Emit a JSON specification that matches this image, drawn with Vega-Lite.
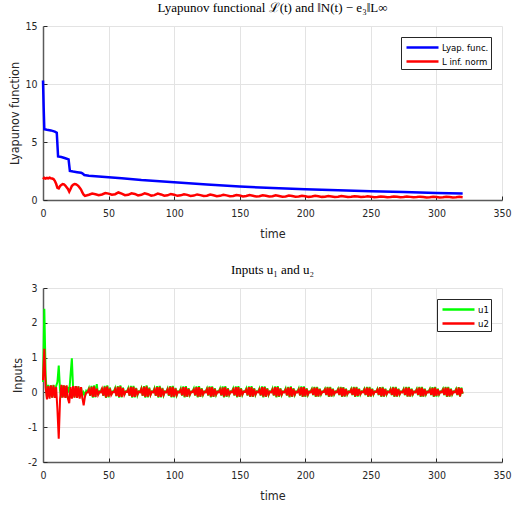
{
  "$schema": "https://vega.github.io/schema/vega-lite/v6.json",
  "padding": {"left": 8, "top": 2, "right": 8, "bottom": 5},
  "bounds": "flush",
  "spacing": 88,
  "resolve": {"scale": {"color": "independent"}, "legend": {"color": "independent"}},
  "config": {
    "view": {"stroke": null},
    "font": "DejaVu Sans Condensed, Liberation Sans",
    "axis": {"labelFont": "DejaVu Sans Condensed, Liberation Sans", "labelFontSize": 10.5, "labelColor": "#262626", "labelFlush": false, "titleFont": "DejaVu Sans Condensed, Liberation Sans", "titleFontSize": 12.5, "titleFontWeight": "normal", "titleColor": "#262626", "domainColor": "#5a5a5a", "domainWidth": 1.5, "tickColor": "#262626", "tickSize": -4, "tickWidth": 1, "gridColor": "#e3e3e3", "gridWidth": 1, "labelPadding": 12},
    "axisX": {"titlePadding": 9},
    "axisY": {"titlePadding": 3, "labelPadding": 10},
    "legend": {"orient": "top-right", "offset": 11, "strokeColor": "#262626", "fillColor": "white", "padding": 2, "symbolType": "M-0.714,0H3.857", "symbolStrokeWidth": 2.5, "symbolSize": 196, "labelFont": "DejaVu Sans Condensed, Liberation Sans", "labelFontSize": 9.5, "labelColor": "#000", "labelOffset": 22, "rowPadding": 0, "title": null},
    "title": {"font": "Liberation Serif", "fontSize": 13, "fontWeight": "normal", "color": "#000", "offset": 6}
  },
  "vconcat": [
    {
      "width": 459, "height": 174,
      "title": "Lyapunov functional ℒ(t) and ‖N(t) − e₃‖L∞",
      "data": {"values": [
        {"t":0,"s":"Lyap. func.","v":10.3},{"t":0.5,"s":"Lyap. func.","v":8},{"t":1,"s":"Lyap. func.","v":6.1},{"t":3,"s":"Lyap. func.","v":6.05},{"t":6,"s":"Lyap. func.","v":6.0},{"t":9,"s":"Lyap. func.","v":5.9},{"t":10.5,"s":"Lyap. func.","v":5.8},{"t":11.5,"s":"Lyap. func.","v":3.75},{"t":14,"s":"Lyap. func.","v":3.7},{"t":17,"s":"Lyap. func.","v":3.6},{"t":19.5,"s":"Lyap. func.","v":3.5},{"t":20.5,"s":"Lyap. func.","v":2.5},{"t":23,"s":"Lyap. func.","v":2.45},{"t":26,"s":"Lyap. func.","v":2.4},{"t":29,"s":"Lyap. func.","v":2.35},{"t":30,"s":"Lyap. func.","v":2.3},{"t":31.5,"s":"Lyap. func.","v":2.15},{"t":35,"s":"Lyap. func.","v":2.1},{"t":40,"s":"Lyap. func.","v":2.05},{"t":50,"s":"Lyap. func.","v":1.97},{"t":60,"s":"Lyap. func.","v":1.88},{"t":75,"s":"Lyap. func.","v":1.72},{"t":100,"s":"Lyap. func.","v":1.52},{"t":125,"s":"Lyap. func.","v":1.33},{"t":150,"s":"Lyap. func.","v":1.17},{"t":175,"s":"Lyap. func.","v":1.03},{"t":200,"s":"Lyap. func.","v":0.93},{"t":225,"s":"Lyap. func.","v":0.84},{"t":250,"s":"Lyap. func.","v":0.76},{"t":275,"s":"Lyap. func.","v":0.68},{"t":300,"s":"Lyap. func.","v":0.61},{"t":320,"s":"Lyap. func.","v":0.56},
        {"t":0,"s":"L inf. norm","v":1.8},{"t":1,"s":"L inf. norm","v":1.92},{"t":2,"s":"L inf. norm","v":1.85},{"t":3,"s":"L inf. norm","v":1.9},{"t":4,"s":"L inf. norm","v":1.86},{"t":5,"s":"L inf. norm","v":1.92},{"t":6,"s":"L inf. norm","v":1.88},{"t":7,"s":"L inf. norm","v":1.85},{"t":8,"s":"L inf. norm","v":1.8},{"t":9,"s":"L inf. norm","v":1.65},{"t":10,"s":"L inf. norm","v":1.4},{"t":11,"s":"L inf. norm","v":1.05},{"t":12,"s":"L inf. norm","v":1.0},{"t":13,"s":"L inf. norm","v":1.2},{"t":14,"s":"L inf. norm","v":1.3},{"t":15,"s":"L inf. norm","v":1.38},{"t":16,"s":"L inf. norm","v":1.35},{"t":17,"s":"L inf. norm","v":1.25},{"t":18,"s":"L inf. norm","v":1.1},{"t":19,"s":"L inf. norm","v":0.95},{"t":20,"s":"L inf. norm","v":0.72},{"t":21,"s":"L inf. norm","v":0.95},{"t":22,"s":"L inf. norm","v":1.2},{"t":23,"s":"L inf. norm","v":1.32},{"t":24,"s":"L inf. norm","v":1.38},{"t":25,"s":"L inf. norm","v":1.36},{"t":26,"s":"L inf. norm","v":1.3},{"t":27,"s":"L inf. norm","v":1.2},{"t":28,"s":"L inf. norm","v":1.05},{"t":29,"s":"L inf. norm","v":0.9},{"t":30,"s":"L inf. norm","v":0.65},{"t":31,"s":"L inf. norm","v":0.45},{"t":32,"s":"L inf. norm","v":0.35},
        {"t":35,"s":"L inf. norm","v":0.45},{"t":37.5,"s":"L inf. norm","v":0.55},{"t":40,"s":"L inf. norm","v":0.5},{"t":42.5,"s":"L inf. norm","v":0.42},{"t":45,"s":"L inf. norm","v":0.48},{"t":47.5,"s":"L inf. norm","v":0.6},{"t":50,"s":"L inf. norm","v":0.55},{"t":52.5,"s":"L inf. norm","v":0.45},{"t":55,"s":"L inf. norm","v":0.5},{"t":57.5,"s":"L inf. norm","v":0.65},{"t":60,"s":"L inf. norm","v":0.55},{"t":62.5,"s":"L inf. norm","v":0.42},{"t":65,"s":"L inf. norm","v":0.45},{"t":67.5,"s":"L inf. norm","v":0.58},{"t":70,"s":"L inf. norm","v":0.52},{"t":72.5,"s":"L inf. norm","v":0.4},{"t":75,"s":"L inf. norm","v":0.45},{"t":77.5,"s":"L inf. norm","v":0.57},{"t":80,"s":"L inf. norm","v":0.5},{"t":82.5,"s":"L inf. norm","v":0.38},{"t":85,"s":"L inf. norm","v":0.42},{"t":87.5,"s":"L inf. norm","v":0.55},{"t":90,"s":"L inf. norm","v":0.48},{"t":92.5,"s":"L inf. norm","v":0.37},{"t":95,"s":"L inf. norm","v":0.4},{"t":97.5,"s":"L inf. norm","v":0.52},{"t":100,"s":"L inf. norm","v":0.46},{"t":102.5,"s":"L inf. norm","v":0.36},{"t":105,"s":"L inf. norm","v":0.4},{"t":107.5,"s":"L inf. norm","v":0.5},{"t":110,"s":"L inf. norm","v":0.44},{"t":112.5,"s":"L inf. norm","v":0.35},{"t":115,"s":"L inf. norm","v":0.38},{"t":117.5,"s":"L inf. norm","v":0.48},{"t":120,"s":"L inf. norm","v":0.42},{"t":122.5,"s":"L inf. norm","v":0.34},{"t":125,"s":"L inf. norm","v":0.37},{"t":127.5,"s":"L inf. norm","v":0.47},{"t":130,"s":"L inf. norm","v":0.41},{"t":132.5,"s":"L inf. norm","v":0.33},{"t":135,"s":"L inf. norm","v":0.36},{"t":137.5,"s":"L inf. norm","v":0.45},{"t":140,"s":"L inf. norm","v":0.4},{"t":142.5,"s":"L inf. norm","v":0.32},{"t":145,"s":"L inf. norm","v":0.35},{"t":147.5,"s":"L inf. norm","v":0.43},{"t":150,"s":"L inf. norm","v":0.38},{"t":152.5,"s":"L inf. norm","v":0.31},{"t":155,"s":"L inf. norm","v":0.34},{"t":157.5,"s":"L inf. norm","v":0.42},{"t":160,"s":"L inf. norm","v":0.37},{"t":162.5,"s":"L inf. norm","v":0.3},{"t":165,"s":"L inf. norm","v":0.33},{"t":167.5,"s":"L inf. norm","v":0.41},{"t":170,"s":"L inf. norm","v":0.36},{"t":172.5,"s":"L inf. norm","v":0.3},{"t":175,"s":"L inf. norm","v":0.32},{"t":177.5,"s":"L inf. norm","v":0.4},{"t":180,"s":"L inf. norm","v":0.35},{"t":182.5,"s":"L inf. norm","v":0.29},{"t":185,"s":"L inf. norm","v":0.31},{"t":187.5,"s":"L inf. norm","v":0.39},{"t":190,"s":"L inf. norm","v":0.34},{"t":192.5,"s":"L inf. norm","v":0.28},{"t":195,"s":"L inf. norm","v":0.3},{"t":197.5,"s":"L inf. norm","v":0.37},{"t":200,"s":"L inf. norm","v":0.33},{"t":202.5,"s":"L inf. norm","v":0.27},{"t":205,"s":"L inf. norm","v":0.3},{"t":207.5,"s":"L inf. norm","v":0.36},{"t":210,"s":"L inf. norm","v":0.32},{"t":212.5,"s":"L inf. norm","v":0.27},{"t":215,"s":"L inf. norm","v":0.29},{"t":217.5,"s":"L inf. norm","v":0.35},{"t":220,"s":"L inf. norm","v":0.31},{"t":222.5,"s":"L inf. norm","v":0.26},{"t":225,"s":"L inf. norm","v":0.28},{"t":227.5,"s":"L inf. norm","v":0.34},{"t":230,"s":"L inf. norm","v":0.3},{"t":232.5,"s":"L inf. norm","v":0.25},{"t":235,"s":"L inf. norm","v":0.28},{"t":237.5,"s":"L inf. norm","v":0.33},{"t":240,"s":"L inf. norm","v":0.3},{"t":242.5,"s":"L inf. norm","v":0.25},{"t":245,"s":"L inf. norm","v":0.27},{"t":247.5,"s":"L inf. norm","v":0.32},{"t":250,"s":"L inf. norm","v":0.29},{"t":252.5,"s":"L inf. norm","v":0.24},{"t":255,"s":"L inf. norm","v":0.26},{"t":257.5,"s":"L inf. norm","v":0.31},{"t":260,"s":"L inf. norm","v":0.28},{"t":262.5,"s":"L inf. norm","v":0.24},{"t":265,"s":"L inf. norm","v":0.26},{"t":267.5,"s":"L inf. norm","v":0.31},{"t":270,"s":"L inf. norm","v":0.28},{"t":272.5,"s":"L inf. norm","v":0.23},{"t":275,"s":"L inf. norm","v":0.25},{"t":277.5,"s":"L inf. norm","v":0.3},{"t":280,"s":"L inf. norm","v":0.27},{"t":282.5,"s":"L inf. norm","v":0.23},{"t":285,"s":"L inf. norm","v":0.25},{"t":287.5,"s":"L inf. norm","v":0.29},{"t":290,"s":"L inf. norm","v":0.26},{"t":292.5,"s":"L inf. norm","v":0.22},{"t":295,"s":"L inf. norm","v":0.24},{"t":297.5,"s":"L inf. norm","v":0.28},{"t":300,"s":"L inf. norm","v":0.26},{"t":302.5,"s":"L inf. norm","v":0.22},{"t":305,"s":"L inf. norm","v":0.24},{"t":307.5,"s":"L inf. norm","v":0.28},{"t":310,"s":"L inf. norm","v":0.25},{"t":312.5,"s":"L inf. norm","v":0.21},{"t":315,"s":"L inf. norm","v":0.23},{"t":317.5,"s":"L inf. norm","v":0.27},{"t":320,"s":"L inf. norm","v":0.24}
      ]},
      "mark": {"type": "line", "strokeWidth": 2.5},
      "encoding": {
        "x": {"field": "t", "type": "quantitative", "title": "time", "scale": {"domain": [0, 350], "nice": false}, "axis": {"values": [0,50,100,150,200,250,300,350]}},
        "y": {"field": "v", "type": "quantitative", "title": "Lyapunov function", "scale": {"domain": [0, 15], "nice": false}, "axis": {"values": [0,5,10,15]}},
        "color": {"field": "s", "type": "nominal", "scale": {"domain": ["Lyap. func.", "L inf. norm"], "range": ["#0000ff", "#ff0000"]}, "legend": {"title": null}},
        "order": {"field": "t", "type": "quantitative"}
      }
    },
    {
      "width": 459, "height": 174,
      "title": "Inputs u₁ and u₂",
      "data": {"values": [
        {"t":0,"u1":0.3,"u2":0.35},{"t":1,"u1":2.4,"u2":1.25},{"t":2,"u1":0.5,"u2":0.15},{"t":3,"u1":-0.15,"u2":-0.2},{"t":4,"u1":0.22,"u2":0.18},{"t":5,"u1":-0.12,"u2":-0.18},{"t":6,"u1":0.2,"u2":0.2},{"t":7,"u1":-0.15,"u2":-0.15},{"t":8,"u1":0.22,"u2":0.2},{"t":9,"u1":-0.12,"u2":-0.16},
        {"t":10,"u1":0.18,"u2":0.15},{"t":11,"u1":0.3,"u2":-0.5},{"t":12,"u1":0.77,"u2":-1.33},{"t":13,"u1":0.05,"u2":-0.2},{"t":14,"u1":-0.15,"u2":0.22},{"t":15,"u1":0.2,"u2":-0.15},{"t":16,"u1":-0.12,"u2":0.2},{"t":17,"u1":0.18,"u2":-0.16},{"t":18,"u1":-0.15,"u2":0.2},{"t":19,"u1":0.16,"u2":-0.18},
        {"t":20,"u1":0.0,"u2":-0.31},{"t":21,"u1":0.5,"u2":0.15},{"t":22,"u1":0.98,"u2":-0.18},{"t":23,"u1":0.05,"u2":0.18},{"t":24,"u1":-0.14,"u2":-0.15},{"t":25,"u1":0.18,"u2":0.18},{"t":26,"u1":-0.15,"u2":-0.16},{"t":27,"u1":0.17,"u2":0.17},{"t":28,"u1":-0.13,"u2":-0.18},{"t":29,"u1":0.15,"u2":0.15},
        {"t":30,"u1":-0.1,"u2":-0.15},{"t":31,"u1":0.0,"u2":-0.37},{"t":32,"u1":-0.08,"u2":-0.12},{"t":33,"u1":0.05,"u2":0.0},
        {"t":34,"u1":0.02,"u2":0.0},{"t":35,"u1":0.12,"u2":0.09},{"t":36,"u1":-0.1,"u2":-0.09},{"t":37,"u1":0.19,"u2":0.16},{"t":38,"u1":-0.15,"u2":-0.13},{"t":39,"u1":0.2,"u2":0.17},{"t":40,"u1":-0.14,"u2":-0.13},{"t":41,"u1":0.24,"u2":0.11},{"t":42,"u1":-0.08,"u2":-0.07},{"t":43,"u1":0.03,"u2":0.02},
        {"t":44,"u1":0.01,"u2":0.0},{"t":45,"u1":0.13,"u2":0.1},{"t":46,"u1":-0.1,"u2":-0.09},{"t":47,"u1":0.19,"u2":0.16},{"t":48,"u1":-0.16,"u2":-0.14},{"t":49,"u1":0.2,"u2":0.17},{"t":50,"u1":-0.14,"u2":-0.12},{"t":51,"u1":0.14,"u2":0.11},{"t":52,"u1":-0.08,"u2":-0.07},{"t":53,"u1":0.03,"u2":0.01},
        {"t":54,"u1":0.02,"u2":0.0},{"t":55,"u1":0.12,"u2":0.09},{"t":56,"u1":-0.11,"u2":-0.1},{"t":57,"u1":0.18,"u2":0.16},{"t":58,"u1":-0.15,"u2":-0.13},{"t":59,"u1":0.2,"u2":0.17},{"t":60,"u1":-0.14,"u2":-0.13},{"t":61,"u1":0.14,"u2":0.12},{"t":62,"u1":-0.08,"u2":-0.07},{"t":63,"u1":0.03,"u2":0.02},
        {"t":64,"u1":0.02,"u2":0.01},{"t":65,"u1":0.12,"u2":0.09},{"t":66,"u1":-0.1,"u2":-0.09},{"t":67,"u1":0.19,"u2":0.16},{"t":68,"u1":-0.15,"u2":-0.13},{"t":69,"u1":0.19,"u2":0.16},{"t":70,"u1":-0.14,"u2":-0.13},{"t":71,"u1":0.13,"u2":0.11},{"t":72,"u1":-0.08,"u2":-0.06},{"t":73,"u1":0.03,"u2":0.02},
        {"t":74,"u1":0.02,"u2":0.0},{"t":75,"u1":0.12,"u2":0.1},{"t":76,"u1":-0.1,"u2":-0.09},{"t":77,"u1":0.18,"u2":0.16},{"t":78,"u1":-0.15,"u2":-0.13},{"t":79,"u1":0.2,"u2":0.17},{"t":80,"u1":-0.14,"u2":-0.12},{"t":81,"u1":0.14,"u2":0.11},{"t":82,"u1":-0.07,"u2":-0.07},{"t":83,"u1":0.03,"u2":0.02},
        {"t":84,"u1":0.02,"u2":0.0},{"t":85,"u1":0.12,"u2":0.09},{"t":86,"u1":-0.1,"u2":-0.09},{"t":87,"u1":0.18,"u2":0.15},{"t":88,"u1":-0.15,"u2":-0.13},{"t":89,"u1":0.19,"u2":0.16},{"t":90,"u1":-0.14,"u2":-0.13},{"t":91,"u1":0.13,"u2":0.11},{"t":92,"u1":-0.08,"u2":-0.07},{"t":93,"u1":0.03,"u2":0.02},
        {"t":94,"u1":0.02,"u2":0.0},{"t":95,"u1":0.11,"u2":0.09},{"t":96,"u1":-0.1,"u2":-0.08},{"t":97,"u1":0.18,"u2":0.16},{"t":98,"u1":-0.14,"u2":-0.13},{"t":99,"u1":0.19,"u2":0.16},{"t":100,"u1":-0.14,"u2":-0.12},{"t":101,"u1":0.13,"u2":0.11},{"t":102,"u1":-0.08,"u2":-0.07},{"t":103,"u1":0.03,"u2":0.02},
        {"t":104,"u1":0.02,"u2":0.0},{"t":105,"u1":0.11,"u2":0.08},{"t":106,"u1":-0.09,"u2":-0.08},{"t":107,"u1":0.17,"u2":0.15},{"t":108,"u1":-0.14,"u2":-0.12},{"t":109,"u1":0.18,"u2":0.15},{"t":110,"u1":-0.13,"u2":-0.12},{"t":111,"u1":0.12,"u2":0.1},{"t":112,"u1":-0.07,"u2":-0.06},{"t":113,"u1":0.03,"u2":0.02},
        {"t":114,"u1":0.02,"u2":0.01},{"t":115,"u1":0.11,"u2":0.08},{"t":116,"u1":-0.09,"u2":-0.08},{"t":117,"u1":0.17,"u2":0.15},{"t":118,"u1":-0.14,"u2":-0.12},{"t":119,"u1":0.18,"u2":0.15},{"t":120,"u1":-0.13,"u2":-0.12},{"t":121,"u1":0.12,"u2":0.1},{"t":122,"u1":-0.07,"u2":-0.06},{"t":123,"u1":0.03,"u2":0.02},
        {"t":124,"u1":0.02,"u2":0.0},{"t":125,"u1":0.11,"u2":0.09},{"t":126,"u1":-0.09,"u2":-0.08},{"t":127,"u1":0.17,"u2":0.15},{"t":128,"u1":-0.14,"u2":-0.12},{"t":129,"u1":0.17,"u2":0.15},{"t":130,"u1":-0.13,"u2":-0.12},{"t":131,"u1":0.12,"u2":0.1},{"t":132,"u1":-0.07,"u2":-0.06},{"t":133,"u1":0.03,"u2":0.02},
        {"t":134,"u1":0.02,"u2":0.0},{"t":135,"u1":0.11,"u2":0.08},{"t":136,"u1":-0.09,"u2":-0.08},{"t":137,"u1":0.17,"u2":0.14},{"t":138,"u1":-0.14,"u2":-0.12},{"t":139,"u1":0.18,"u2":0.15},{"t":140,"u1":-0.13,"u2":-0.11},{"t":141,"u1":0.12,"u2":0.1},{"t":142,"u1":-0.07,"u2":-0.06},{"t":143,"u1":0.03,"u2":0.02},
        {"t":144,"u1":0.02,"u2":0.0},{"t":145,"u1":0.11,"u2":0.08},{"t":146,"u1":-0.09,"u2":-0.08},{"t":147,"u1":0.17,"u2":0.15},{"t":148,"u1":-0.14,"u2":-0.12},{"t":149,"u1":0.18,"u2":0.15},{"t":150,"u1":-0.13,"u2":-0.12},{"t":151,"u1":0.12,"u2":0.1},{"t":152,"u1":-0.07,"u2":-0.06},{"t":153,"u1":0.03,"u2":0.02},
        {"t":154,"u1":0.02,"u2":0.01},{"t":155,"u1":0.11,"u2":0.08},{"t":156,"u1":-0.09,"u2":-0.08},{"t":157,"u1":0.17,"u2":0.15},{"t":158,"u1":-0.13,"u2":-0.12},{"t":159,"u1":0.18,"u2":0.15},{"t":160,"u1":-0.13,"u2":-0.12},{"t":161,"u1":0.12,"u2":0.1},{"t":162,"u1":-0.07,"u2":-0.06},{"t":163,"u1":0.03,"u2":0.02},
        {"t":164,"u1":0.02,"u2":0.0},{"t":165,"u1":0.11,"u2":0.08},{"t":166,"u1":-0.09,"u2":-0.08},{"t":167,"u1":0.17,"u2":0.15},{"t":168,"u1":-0.14,"u2":-0.12},{"t":169,"u1":0.17,"u2":0.15},{"t":170,"u1":-0.13,"u2":-0.12},{"t":171,"u1":0.12,"u2":0.1},{"t":172,"u1":-0.07,"u2":-0.06},{"t":173,"u1":0.03,"u2":0.02},
        {"t":174,"u1":0.02,"u2":0.0},{"t":175,"u1":0.11,"u2":0.08},{"t":176,"u1":-0.09,"u2":-0.08},{"t":177,"u1":0.17,"u2":0.15},{"t":178,"u1":-0.14,"u2":-0.12},{"t":179,"u1":0.18,"u2":0.15},{"t":180,"u1":-0.13,"u2":-0.11},{"t":181,"u1":0.12,"u2":0.1},{"t":182,"u1":-0.07,"u2":-0.06},{"t":183,"u1":0.03,"u2":0.02},
        {"t":184,"u1":0.02,"u2":0.0},{"t":185,"u1":0.11,"u2":0.08},{"t":186,"u1":-0.09,"u2":-0.08},{"t":187,"u1":0.16,"u2":0.14},{"t":188,"u1":-0.14,"u2":-0.12},{"t":189,"u1":0.17,"u2":0.15},{"t":190,"u1":-0.13,"u2":-0.12},{"t":191,"u1":0.12,"u2":0.1},{"t":192,"u1":-0.07,"u2":-0.06},{"t":193,"u1":0.03,"u2":0.02},
        {"t":194,"u1":0.02,"u2":0.0},{"t":195,"u1":0.11,"u2":0.08},{"t":196,"u1":-0.09,"u2":-0.08},{"t":197,"u1":0.17,"u2":0.15},{"t":198,"u1":-0.13,"u2":-0.12},{"t":199,"u1":0.17,"u2":0.15},{"t":200,"u1":-0.13,"u2":-0.11},{"t":201,"u1":0.12,"u2":0.1},{"t":202,"u1":-0.07,"u2":-0.06},{"t":203,"u1":0.03,"u2":0.02},
        {"t":204,"u1":0.02,"u2":0.0},{"t":205,"u1":0.1,"u2":0.08},{"t":206,"u1":-0.08,"u2":-0.07},{"t":207,"u1":0.16,"u2":0.14},{"t":208,"u1":-0.13,"u2":-0.11},{"t":209,"u1":0.16,"u2":0.14},{"t":210,"u1":-0.12,"u2":-0.11},{"t":211,"u1":0.11,"u2":0.09},{"t":212,"u1":-0.06,"u2":-0.05},{"t":213,"u1":0.03,"u2":0.02},
        {"t":214,"u1":0.02,"u2":0.01},{"t":215,"u1":0.1,"u2":0.08},{"t":216,"u1":-0.08,"u2":-0.07},{"t":217,"u1":0.16,"u2":0.14},{"t":218,"u1":-0.13,"u2":-0.11},{"t":219,"u1":0.16,"u2":0.14},{"t":220,"u1":-0.12,"u2":-0.11},{"t":221,"u1":0.11,"u2":0.09},{"t":222,"u1":-0.06,"u2":-0.05},{"t":223,"u1":0.03,"u2":0.02},
        {"t":224,"u1":0.02,"u2":0.0},{"t":225,"u1":0.1,"u2":0.08},{"t":226,"u1":-0.08,"u2":-0.07},{"t":227,"u1":0.16,"u2":0.14},{"t":228,"u1":-0.13,"u2":-0.11},{"t":229,"u1":0.15,"u2":0.14},{"t":230,"u1":-0.12,"u2":-0.11},{"t":231,"u1":0.11,"u2":0.09},{"t":232,"u1":-0.06,"u2":-0.05},{"t":233,"u1":0.03,"u2":0.02},
        {"t":234,"u1":0.02,"u2":0.0},{"t":235,"u1":0.1,"u2":0.08},{"t":236,"u1":-0.08,"u2":-0.07},{"t":237,"u1":0.16,"u2":0.14},{"t":238,"u1":-0.13,"u2":-0.11},{"t":239,"u1":0.16,"u2":0.14},{"t":240,"u1":-0.12,"u2":-0.1},{"t":241,"u1":0.11,"u2":0.09},{"t":242,"u1":-0.06,"u2":-0.05},{"t":243,"u1":0.03,"u2":0.02},
        {"t":244,"u1":0.02,"u2":0.0},{"t":245,"u1":0.1,"u2":0.08},{"t":246,"u1":-0.08,"u2":-0.07},{"t":247,"u1":0.16,"u2":0.14},{"t":248,"u1":-0.13,"u2":-0.11},{"t":249,"u1":0.16,"u2":0.14},{"t":250,"u1":-0.12,"u2":-0.11},{"t":251,"u1":0.11,"u2":0.09},{"t":252,"u1":-0.06,"u2":-0.05},{"t":253,"u1":0.03,"u2":0.02},
        {"t":254,"u1":0.02,"u2":0.01},{"t":255,"u1":0.1,"u2":0.08},{"t":256,"u1":-0.08,"u2":-0.07},{"t":257,"u1":0.15,"u2":0.14},{"t":258,"u1":-0.13,"u2":-0.11},{"t":259,"u1":0.16,"u2":0.14},{"t":260,"u1":-0.12,"u2":-0.11},{"t":261,"u1":0.11,"u2":0.09},{"t":262,"u1":-0.06,"u2":-0.05},{"t":263,"u1":0.03,"u2":0.02},
        {"t":264,"u1":0.02,"u2":0.0},{"t":265,"u1":0.1,"u2":0.08},{"t":266,"u1":-0.08,"u2":-0.07},{"t":267,"u1":0.16,"u2":0.14},{"t":268,"u1":-0.13,"u2":-0.11},{"t":269,"u1":0.16,"u2":0.14},{"t":270,"u1":-0.12,"u2":-0.11},{"t":271,"u1":0.11,"u2":0.09},{"t":272,"u1":-0.06,"u2":-0.05},{"t":273,"u1":0.03,"u2":0.02},
        {"t":274,"u1":0.02,"u2":0.0},{"t":275,"u1":0.1,"u2":0.08},{"t":276,"u1":-0.08,"u2":-0.07},{"t":277,"u1":0.16,"u2":0.14},{"t":278,"u1":-0.12,"u2":-0.11},{"t":279,"u1":0.16,"u2":0.14},{"t":280,"u1":-0.12,"u2":-0.11},{"t":281,"u1":0.11,"u2":0.09},{"t":282,"u1":-0.06,"u2":-0.05},{"t":283,"u1":0.03,"u2":0.02},
        {"t":284,"u1":0.02,"u2":0.0},{"t":285,"u1":0.1,"u2":0.08},{"t":286,"u1":-0.08,"u2":-0.07},{"t":287,"u1":0.16,"u2":0.14},{"t":288,"u1":-0.13,"u2":-0.11},{"t":289,"u1":0.16,"u2":0.14},{"t":290,"u1":-0.12,"u2":-0.11},{"t":291,"u1":0.11,"u2":0.09},{"t":292,"u1":-0.06,"u2":-0.05},{"t":293,"u1":0.03,"u2":0.02},
        {"t":294,"u1":0.02,"u2":0.0},{"t":295,"u1":0.1,"u2":0.08},{"t":296,"u1":-0.08,"u2":-0.07},{"t":297,"u1":0.15,"u2":0.13},{"t":298,"u1":-0.13,"u2":-0.11},{"t":299,"u1":0.16,"u2":0.14},{"t":300,"u1":-0.12,"u2":-0.1},{"t":301,"u1":0.11,"u2":0.09},{"t":302,"u1":-0.06,"u2":-0.05},{"t":303,"u1":0.03,"u2":0.02},
        {"t":304,"u1":0.02,"u2":0.0},{"t":305,"u1":0.1,"u2":0.08},{"t":306,"u1":-0.08,"u2":-0.07},{"t":307,"u1":0.16,"u2":0.14},{"t":308,"u1":-0.13,"u2":-0.11},{"t":309,"u1":0.16,"u2":0.14},{"t":310,"u1":-0.12,"u2":-0.11},{"t":311,"u1":0.11,"u2":0.09},{"t":312,"u1":-0.06,"u2":-0.05},{"t":313,"u1":0.03,"u2":0.02},
        {"t":314,"u1":0.02,"u2":0.0},{"t":315,"u1":0.1,"u2":0.08},{"t":316,"u1":-0.08,"u2":-0.07},{"t":317,"u1":0.15,"u2":0.14},{"t":318,"u1":-0.12,"u2":-0.11},{"t":319,"u1":0.14,"u2":0.12},{"t":320,"u1":-0.04,"u2":-0.03}
      ]},
      "transform": [{"fold": ["u1", "u2"], "as": ["k", "u"]}],
      "mark": {"type": "line", "strokeWidth": 2},
      "encoding": {
        "x": {"field": "t", "type": "quantitative", "title": "time", "scale": {"domain": [0, 350], "nice": false}, "axis": {"values": [0,50,100,150,200,250,300,350]}},
        "y": {"field": "u", "type": "quantitative", "title": "Inputs", "scale": {"domain": [-2, 3], "nice": false}, "axis": {"values": [-2,-1,0,1,2,3], "labelExpr": "replace(datum.label, '−', '-')"}},
        "color": {"field": "k", "type": "nominal", "scale": {"domain": ["u1", "u2"], "range": ["#00ff00", "#ff0000"]}, "legend": {"title": null}},
        "order": {"field": "t", "type": "quantitative"}
      }
    }
  ]
}
